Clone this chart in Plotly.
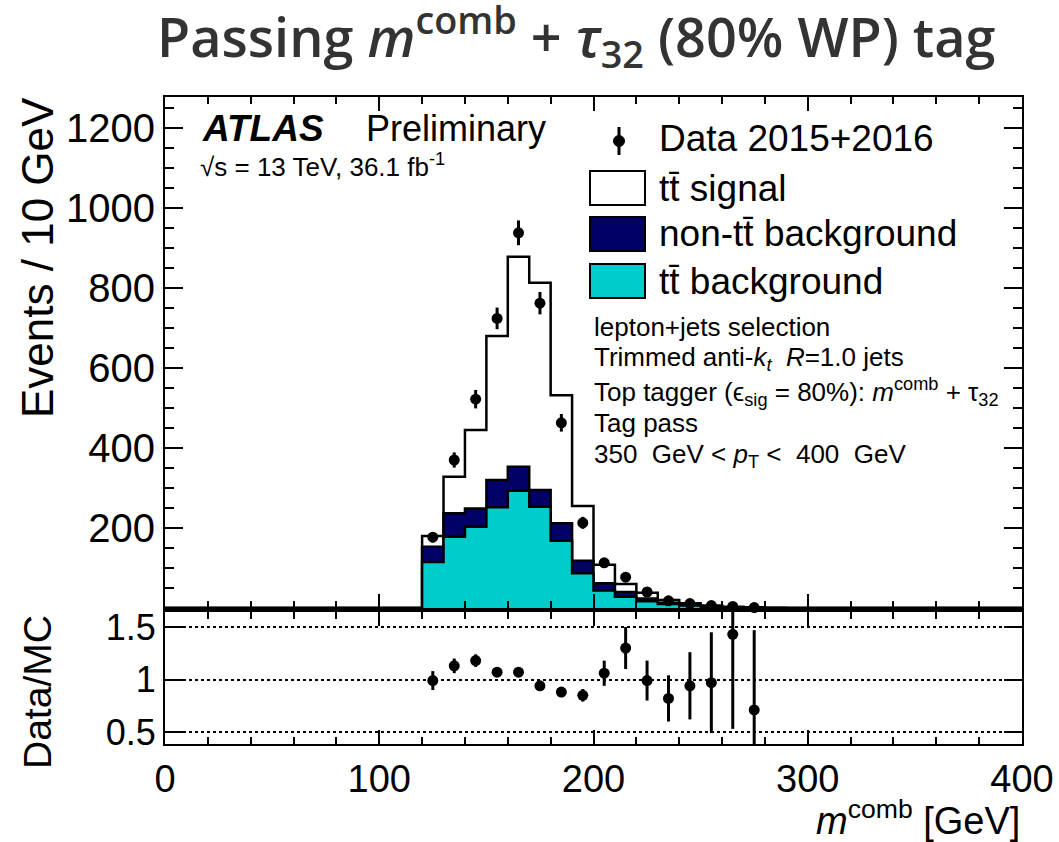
import plotly.graph_objects as go

# ---------------- data ----------------
bin_low = [120, 130, 140, 150, 160, 170, 180, 190, 200, 210, 220, 230, 240, 250, 260, 270, 280]
bin_width = 10
tt_background = [115, 178, 203, 252, 293, 253, 168, 87, 44, 28, 17, 10, 6, 3, 1.5, 0.7, 0.2]
non_tt_background = [38, 59, 46, 68, 60, 42, 44, 31, 18, 12, 7, 3, 2, 1, 0.5, 0.3, 0.1]
tt_signal = [27, 91, 196, 360, 525, 518, 320, 137, 46, 20, 14, 7, 4, 2, 1, 0.5, 0.2]

data_x = [125, 135, 145, 155, 165, 175, 185, 195, 205, 215, 225, 235, 245, 255, 265, 275]
data_y = [177, 370, 522, 724, 938, 762, 463, 213, 113, 77, 40, 18, 11, 6, 4, 1]
data_err = [13, 19, 23, 27, 31, 28, 22, 15, 11, 9, 6, 4, 3, 2.5, 2, 1]

ratio_y = [0.99, 1.13, 1.18, 1.07, 1.07, 0.94, 0.88, 0.85, 1.06, 1.30, 0.99, 0.82, 0.94, 0.97, 1.43, 0.71]
ratio_err = [0.09, 0.07, 0.06, 0.04, 0.04, 0.04, 0.04, 0.06, 0.12, 0.20, 0.19, 0.22, 0.32, 0.48, 0.90, 0.76]

main_ytick_vals = [200, 400, 600, 800, 1000, 1200]
ratio_ytick_vals = [0.5, 1, 1.5]
ratio_ytick_text = ["0.5", "1", "1.5"]
xtick_vals = [0, 100, 200, 300, 400]

# ---------------- helpers ----------------
W, H = 1059, 842
L, R, T, B = 165, 1022, 97, 744


def px(x):
    return (x - L) / (R - L)


def py(y):
    return (B - y) / (B - T)


def step(vals):
    xs = [0] + bin_low + [bin_low[-1] + bin_width, 400]
    ys = [0] + list(vals) + [0, 0]
    return xs, ys


cum1 = list(tt_background)
cum2 = [a + b for a, b in zip(cum1, non_tt_background)]
cum3 = [a + b for a, b in zip(cum2, tt_signal)]

CYAN = "#00CCCC"
NAVY = "#000066"
FONT = "Liberation Sans"

fig = go.Figure()

for vals, col in [(cum3, "white"), (cum2, NAVY), (cum1, CYAN)]:
    xs, ys = step(vals)
    fig.add_trace(go.Scatter(x=xs, y=ys, mode="lines", line=dict(shape="hv", color="black", width=2.5),
                             fill="tozeroy", fillcolor=col, xaxis="x", yaxis="y",
                             hoverinfo="skip", showlegend=False))

fig.add_trace(go.Scatter(x=data_x, y=data_y, mode="markers",
                         marker=dict(color="black", size=11),
                         error_y=dict(type="data", array=data_err, color="black", thickness=3, width=0),
                         xaxis="x", yaxis="y", cliponaxis=False, showlegend=False))

fig.add_trace(go.Scatter(x=data_x, y=ratio_y, mode="markers",
                         marker=dict(color="black", size=11),
                         error_y=dict(type="data", array=ratio_err, color="black", thickness=3, width=0),
                         xaxis="x2", yaxis="y2", cliponaxis=True, showlegend=False))

d_ratio_top = py(612)
d_main_bot = py(608)

axis_common = dict(showline=True, linecolor="black", linewidth=2, mirror="allticks",
                   ticks="inside", tickcolor="black", zeroline=False, showgrid=False, automargin=False)

fig.update_layout(
    width=W, height=H, autosize=False,
    margin=dict(l=L, r=W - R, t=T, b=H - B, pad=0, autoexpand=False),
    paper_bgcolor="white", plot_bgcolor="white",
    font=dict(family=FONT, color="black"),
    showlegend=False,
    xaxis=dict(domain=[0, 1], range=[0, 400], anchor="y", showticklabels=False,
               tickvals=xtick_vals, ticklen=14, tickwidth=2,
               minor=dict(dtick=20, tick0=0, ticklen=7, tickwidth=1.5, ticks="inside", tickcolor="black"),
               **axis_common),
    yaxis=dict(domain=[d_main_bot, 1], range=[0, 1277.5], anchor="x",
               tickvals=main_ytick_vals, ticklen=18, tickwidth=2,
               tickfont=dict(size=40, family=FONT),
               minor=dict(dtick=50, tick0=0, ticklen=9, tickwidth=1.5, ticks="inside", tickcolor="black"),
               **axis_common),
    xaxis2=dict(domain=[0, 1], range=[0, 400], anchor="y2", matches="x",
                tickvals=xtick_vals, ticklen=14, tickwidth=2,
                tickfont=dict(size=38, family=FONT),
                minor=dict(dtick=20, tick0=0, ticklen=7, tickwidth=1.5, ticks="inside", tickcolor="black"),
                **axis_common),
    yaxis2=dict(domain=[0, d_ratio_top], range=[0.386, 1.643], anchor="x2",
                tickvals=ratio_ytick_vals, ticktext=ratio_ytick_text, ticklen=18, tickwidth=2,
                tickfont=dict(size=36, family=FONT),
                showline=True, linecolor="black", linewidth=2, mirror="allticks", automargin=False,
                ticks="inside", tickcolor="black", zeroline=False,
                showgrid=True, gridcolor="black", gridwidth=1.5, griddash="dot"),
)

ann = []


def text(x, y, s, size, anchor="left", angle=0, family=FONT, color="black", yanchor="middle"):
    ann.append(dict(x=px(x), y=py(y), xref="paper", yref="paper", text=s, showarrow=False,
                    xanchor=anchor, yanchor=yanchor, textangle=angle,
                    font=dict(size=size, family=family, color=color)))


# title
ann.append(dict(x=px(576), y=py(37), xref="paper", yref="paper", showarrow=False,
                text="Passing <i>m</i><sup>comb</sup> + <i>τ</i><sub>32</sub> (80% WP) tag",
                xanchor="center", yanchor="middle",
                font=dict(size=54, family="Open Sans", color="#333333", weight=600)))

# axis titles
text(37, 258, "Events / 10 GeV", 44, anchor="center", angle=-90)
text(37, 692, "Data/MC", 39, anchor="center", angle=-90)
text(1022, 818, "<i>m</i><sup>comb</sup> [GeV]", 38, anchor="right")

# ATLAS label
text(200, 129, "<b><i>ATLAS</i></b>", 37)
text(364, 129, "Preliminary", 36)
text(198, 165, "√s = 13 TeV, 36.1 fb<sup>-1</sup>", 26)

# legend
legend_rows = [("tt\u0304 signal", "white", 188), ("non-tt\u0304 background", NAVY, 234), ("tt\u0304 background", CYAN, 281)]
shapes = []
for label, col, yc in legend_rows:
    shapes.append(dict(type="rect", xref="paper", yref="paper", x0=px(590), x1=px(645),
                       y0=py(yc + 17), y1=py(yc - 17), fillcolor=col, line=dict(color="black", width=2)))
    text(657, yc, label, 37)
# data legend marker
shapes.append(dict(type="line", xref="paper", yref="paper", x0=px(619), x1=px(619), y0=py(127), y1=py(155),
                   line=dict(color="black", width=3)))
shapes.append(dict(type="circle", xref="paper", yref="paper", x0=px(613.5), x1=px(624.5), y0=py(146.5), y1=py(135.5),
                   fillcolor="black", line=dict(color="black", width=1)))
text(657, 139, "Data 2015+2016", 37)

# info block
info = [
    (327, "lepton+jets selection"),
    (358, "Trimmed anti-<i>k</i><sub><i>t</i></sub>  <i>R</i>=1.0 jets"),
    (392, "Top tagger (ϵ<sub>sig</sub> = 80%): <i>m</i><sup>comb</sup> + τ<sub>32</sub>"),
    (423, "Tag pass"),
    (455, "350  GeV &lt; <i>p</i><sub>T</sub> &lt;  400  GeV"),
]
for yc, s in info:
    text(592, yc, s, 26)

fig.update_layout(annotations=ann, shapes=shapes)

fig.write_html("out.html")
